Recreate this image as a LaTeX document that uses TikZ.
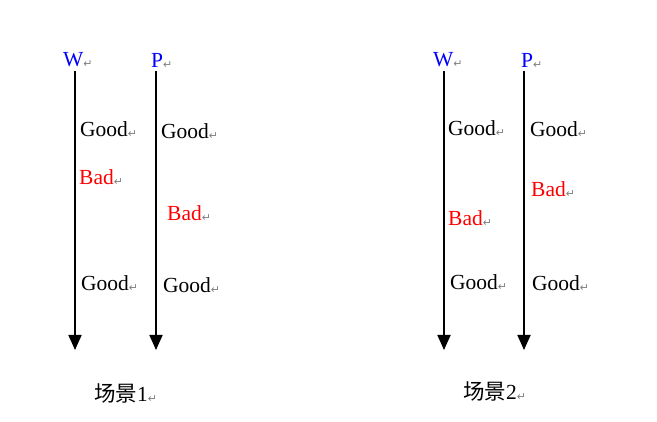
\documentclass[tikz,border=0pt]{standalone}
\usepackage{fontspec}
\setmainfont{Liberation Serif}
\newfontfamily\cjk{Noto Sans CJK SC}
\newfontfamily\symfont{DejaVu Sans}
\usetikzlibrary{arrows.meta}
\newcommand{\ret}{\smash{\raisebox{-1pt}{\fontsize{11}{11}\symfont\textcolor{gray}{↵}}}}

\begin{document}
\begin{tikzpicture}[x=1pt,y=-1pt,
    every node/.style={anchor=west,inner sep=0pt,font=\fontsize{21.5}{25}\selectfont},
    good/.style={text=black},
    bad/.style={text=red},
    who/.style={text=blue},
    flow/.style={line width=1.8pt,-{Triangle[width=13pt,length=15pt]}}]
  \useasboundingbox (0,0) rectangle (657,422);
  \foreach \x/\n in {75/w1,156/p1,444/w2,524/p2} {
    \coordinate (\n-top) at (\x,71);
    \coordinate (\n-end) at (\x,350);
    \draw[flow] (\n-top) -- (\n-end);
  }
  \foreach \n/\x/\y/\s/\t in {lw1/63/60/who/W, lp1/151/60/who/P,
      lw2/433/60/who/W, lp2/521/60/who/P,
      g1/80/129/good/Good, g2/161/131/good/Good,
      b1/79/177/bad/Bad, b2/167/213/bad/Bad,
      g3/81/283/good/Good, g4/163/285/good/Good,
      g5/448/128/good/Good, g6/530/129/good/Good,
      b3/448/218/bad/Bad, b4/531/189/bad/Bad,
      g7/450/282/good/Good, g8/532/283/good/Good} {
    \node[\s] (\n) at (\x,\y) {\t\ret};
  }
  \node (s1) at (94,393) {{\cjk 场景}1\ret};
  \node (s2) at (463,391) {{\cjk 场景}2\ret};
\end{tikzpicture}
\end{document}
